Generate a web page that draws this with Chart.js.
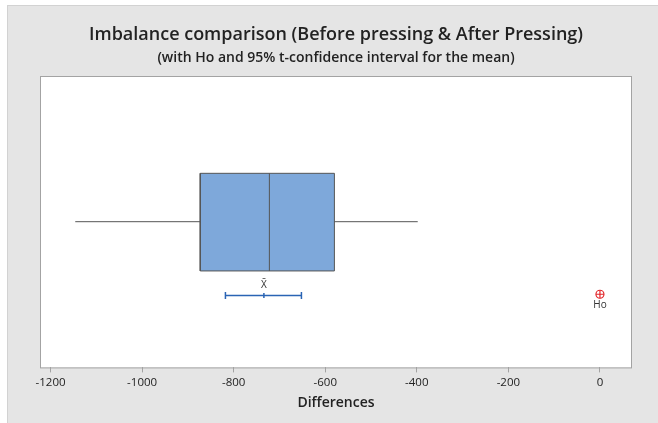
<!DOCTYPE html>
<html>
<head>
<meta charset="utf-8">
<script src="https://cdn.jsdelivr.net/npm/chart.js@4"></script>
<style>
  html, body { margin: 0; padding: 0; background: #fff; }
  #panel {
    position: absolute; left: 7px; top: 5px; width: 650px; height: 417px;
    background: #e5e5e5; border-left: 1px solid #d2d2d2; border-top: 1px solid #d2d2d2;
  }
</style>
</head>
<body>
<div id="panel"><canvas id="myChart" width="650" height="417"></canvas></div>
<script>
'use strict';
// box plot summary of the differences
let whiskerLow = -1146;
let q1 = -873;
let median = -722;
let q3 = -580;
let whiskerHigh = -398;
// 95% t-confidence interval for the mean
let ciLow = -818;
let mean = -734;
let ciHigh = -652;
// hypothesised mean
let ho = 0;
let tickValues = [-1200, -1000, -800, -600, -400, -200, 0];

let fontName = "'Open Sans', 'Noto Sans', sans-serif";

// white plot area with a grey frame
let frame = {
    id: 'frame',
    beforeDraw(chart) {
        let a = chart.chartArea;
        let ctx = chart.ctx;
        ctx.save();
        ctx.fillStyle = '#fff';
        ctx.fillRect(a.left, a.top, a.right - a.left, a.bottom - a.top);
        ctx.strokeStyle = '#a3a3a3';
        ctx.lineWidth = 1;
        ctx.strokeRect(a.left + 0.5, a.top + 0.5, a.right - a.left - 1, a.bottom - a.top);
        ctx.restore();
    }
};

// small labels under the marks
let labels = {
    id: 'labels',
    afterDatasetsDraw(chart) {
        let x = chart.scales.x;
        let y = chart.scales.y;
        let ctx = chart.ctx;
        ctx.save();
        ctx.font = '10px ' + fontName;
        ctx.fillStyle = '#333';
        ctx.textAlign = 'center';
        ctx.textBaseline = 'middle';
        ctx.fillText('X\u0304', x.getPixelForValue(mean), y.getPixelForValue(0.247) - 10);
        ctx.fillText('Ho', x.getPixelForValue(ho), y.getPixelForValue(0.251) + 11);
        ctx.restore();
    }
};

let ctx = document.getElementById('myChart').getContext('2d');

let myChart = new Chart(ctx, {
    type: 'scatter',
    data: {
        datasets: [{
            // box
            data: [{x: q1, y: 0.331}, {x: q3, y: 0.331}, {x: q3, y: 0.666}, {x: q1, y: 0.666}, {x: q1, y: 0.331}],
            showLine: true,
            fill: 'shape',
            backgroundColor: '#7ea8da',
            borderColor: '#555',
            borderWidth: 1,
            pointRadius: 0,
            order: 5
        }, {
            // median
            data: [{x: median, y: 0.331}, {x: median, y: 0.666}],
            showLine: true,
            borderColor: '#555',
            borderWidth: 1,
            pointRadius: 0,
            order: 1
        }, {
            // lower whisker
            data: [{x: whiskerLow, y: 0.5}, {x: q1, y: 0.5}],
            showLine: true,
            borderColor: '#555',
            borderWidth: 1,
            pointRadius: 0
        }, {
            // upper whisker
            data: [{x: q3, y: 0.5}, {x: whiskerHigh, y: 0.5}],
            showLine: true,
            borderColor: '#555',
            borderWidth: 1,
            pointRadius: 0
        }, {
            // confidence interval
            data: [{x: ciLow, y: 0.247}, {x: mean, y: 0.247}, {x: ciHigh, y: 0.247}],
            showLine: true,
            borderColor: '#2a64b4',
            borderWidth: 1.5,
            pointStyle: 'line',
            rotation: 90,
            pointRadius: [3.5, 2.5, 3.5],
            pointBorderColor: '#2a64b4',
            pointBorderWidth: 1.5
        }, {
            // Ho circle
            data: [{x: ho, y: 0.251}],
            pointStyle: 'circle',
            pointRadius: 4,
            backgroundColor: 'rgba(0,0,0,0)',
            borderColor: '#e2262a',
            borderWidth: 1.2
        }, {
            // Ho cross
            data: [{x: ho, y: 0.251}],
            pointStyle: 'cross',
            pointRadius: 4,
            borderColor: '#e2262a',
            borderWidth: 1.2
        }]
    },
    options: {
        responsive: false,
        animation: false,
        layout: { padding: { left: 32, right: 26, top: 0, bottom: 12 } },
        plugins: {
            legend: { display: false },
            tooltip: { enabled: false },
            title: {
                display: true,
                text: 'Imbalance comparison (Before pressing & After Pressing)',
                color: '#222',
                font: { family: fontName, size: 18, weight: '600' },
                padding: { top: 18, bottom: 0 }
            },
            subtitle: {
                display: true,
                text: '(with Ho and 95% t-confidence interval for the mean)',
                color: '#222',
                font: { family: fontName, size: 14, weight: '600' },
                padding: { top: 4, bottom: 9.6 }
            }
        },
        scales: {
            x: {
                type: 'linear',
                min: -1223,
                max: 70,
                afterBuildTicks: (axis) => { axis.ticks = tickValues.map(v => ({value: v})); },
                border: { display: false },
                grid: { drawOnChartArea: false, drawTicks: true, tickLength: 5, color: '#a3a3a3' },
                ticks: {
                    color: '#222', padding: 3, maxRotation: 0,
                    font: { family: fontName, size: 11.5 },
                    callback: (v) => String(v)
                },
                title: {
                    display: true,
                    text: 'Differences',
                    color: '#222',
                    font: { family: fontName, size: 14, weight: '600' },
                    padding: { top: 2, bottom: 0 }
                }
            },
            y: {
                display: false,
                min: 0,
                max: 1
            }
        }
    },
    plugins: [frame, labels]
});
</script>
</body>
</html>
